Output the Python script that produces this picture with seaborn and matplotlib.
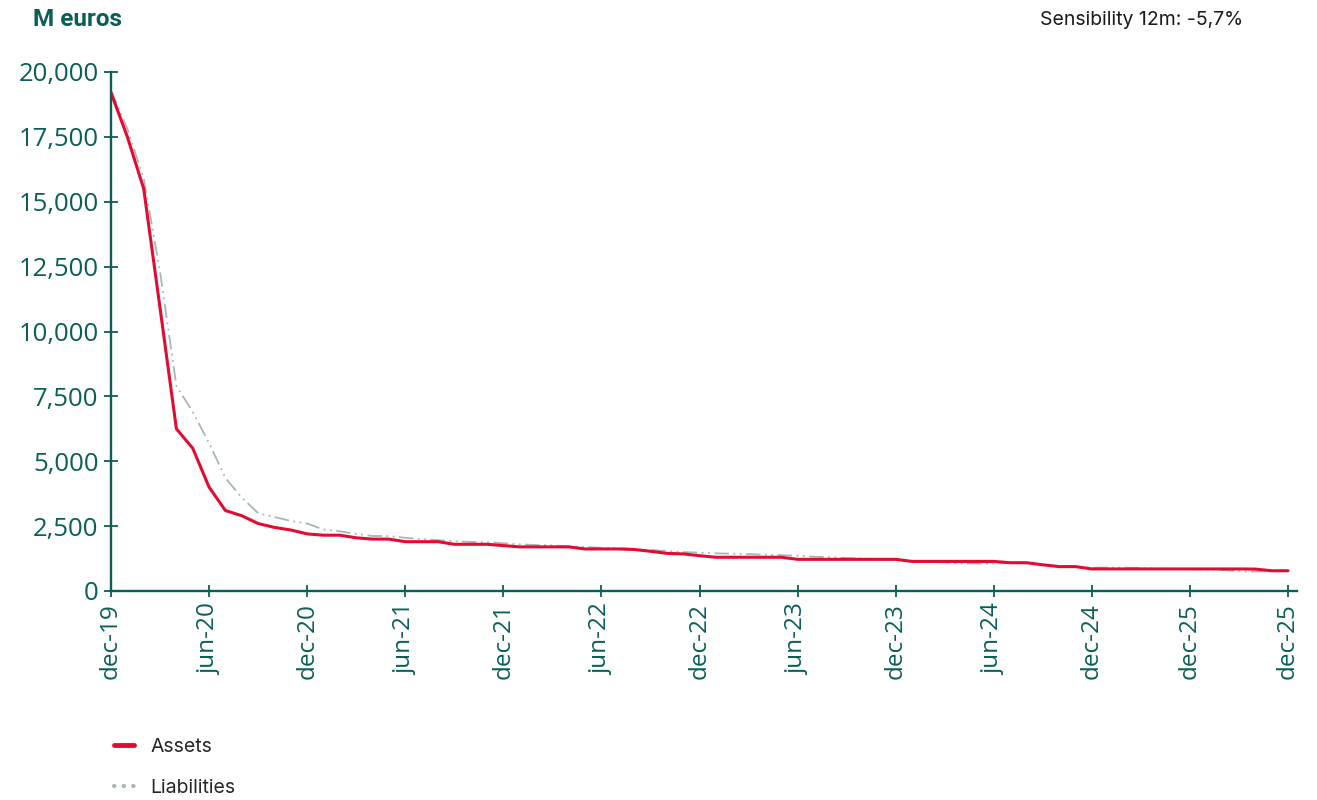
import seaborn as sns
import matplotlib.pyplot as plt
import pandas as pd
from matplotlib.lines import Line2D
from matplotlib.ticker import FuncFormatter

sns.set_theme(style="white")
plt.rcParams['font.family'] = ['Open Sans', 'DejaVu Sans']

TEAL = '#0a5f58'
RED = '#e30b32'
GREY = '#a8b8b5'

# monthly points, dec-19 .. dec-25 (73 months)
assets = [19200, 17500, 15500, 10900, 6250, 5500, 4000, 3100, 2900, 2600,
          2450, 2350, 2200, 2150, 2150, 2050, 2000, 2000, 1900, 1900,
          1900, 1800, 1800, 1800, 1750, 1700, 1700, 1700, 1700, 1620,
          1620, 1620, 1600, 1530, 1450, 1430, 1360, 1300, 1300, 1300,
          1300, 1300, 1220, 1220, 1220, 1220, 1220, 1220, 1220, 1140,
          1140, 1140, 1140, 1140, 1140, 1090, 1090, 1010, 940, 940,
          850, 850, 850, 850, 850, 850, 850, 850, 850, 850,
          845, 780, 780]
liabilities = [19300, 17800, 15900, 12300, 7900, 6900, 5700, 4350, 3600, 3000,
               2850, 2700, 2600, 2370, 2300, 2200, 2120, 2120, 2050, 2000,
               1960, 1920, 1890, 1880, 1840, 1800, 1770, 1760, 1720, 1700,
               1660, 1650, 1620, 1580, 1540, 1500, 1480, 1450, 1440, 1420,
               1400, 1380, 1360, 1320, 1300, 1270, 1250, 1230, 1200, 1150,
               1130, 1100, 1070, 1060, 1060, 1080, 1060, 1010, 970, 940,
               900, 900, 900, 890, 860, 850, 840, 830, 810, 760,
               750, 770, 780]
tick_labels = ['dec-19', 'jun-20', 'dec-20', 'jun-21', 'dec-21', 'jun-22', 'dec-22',
               'jun-23', 'dec-23', 'jun-24', 'dec-24', 'dec-25', 'dec-25']

df = pd.DataFrame({'month': range(len(assets)), 'assets': assets, 'liabilities': liabilities})

fig = plt.figure(figsize=(13.17, 8), dpi=100)
ax = fig.add_axes([0.0843, 0.26125, 0.9005, 0.64875])

sns.lineplot(x='month', y='liabilities', data=df, ax=ax, color=GREY, linewidth=1.3,
             dashes=False, linestyle=(0, (8, 2.5, 1, 2.5, 1, 2.5)))
sns.lineplot(x='month', y='assets', data=df, ax=ax, color=RED, linewidth=2.2)

ax.set_xlim(0, 72.55)
ax.set_ylim(0, 20000)
ax.set_xticks(range(0, 73, 6))
ax.set_xticklabels(tick_labels, rotation=90)
ax.set_yticks(range(0, 20001, 2500))
ax.yaxis.set_major_formatter(FuncFormatter(lambda v, p: f'{int(v):,}'))
ax.set_xlabel('')
ax.set_ylabel('')

for s in ['top', 'right']:
    ax.spines[s].set_visible(False)
for s in ['left', 'bottom']:
    ax.spines[s].set_color(TEAL)
    ax.spines[s].set_linewidth(1.7)

ax.tick_params(axis='both', colors=TEAL, labelcolor=TEAL, width=1.3)
ax.tick_params(axis='y', direction='inout', length=10, pad=4, left=True, labelsize=18.5)
ax.tick_params(axis='x', direction='inout', length=9, pad=4, bottom=True, labelsize=17.5)

fig.text(0.025, 0.975, 'M euros', color=TEAL, fontsize=17.5, fontweight='bold',
         ha='left', va='center', family=['Roboto', 'DejaVu Sans'])
fig.text(0.944, 0.975, 'Sensibility 12m: -5,7%', color='#1a1a1a', fontsize=14,
         ha='right', va='center', family=['Inter', 'DejaVu Sans'])

handles = [Line2D([], [], color=RED, linewidth=3.5, solid_capstyle='round'),
           Line2D([], [], color=GREY, linewidth=3, linestyle=(0, (0.1, 2.2)),
                  dash_capstyle='round')]
fig.legend(handles, ['Assets', 'Liabilities'], loc='upper left',
           bbox_to_anchor=(0.073, 0.1), frameon=False, handlelength=1.05,
           handletextpad=0.85, labelspacing=1.2,
           prop={'family': ['Inter', 'DejaVu Sans'], 'size': 14})

fig.savefig('out.png', dpi=100)
